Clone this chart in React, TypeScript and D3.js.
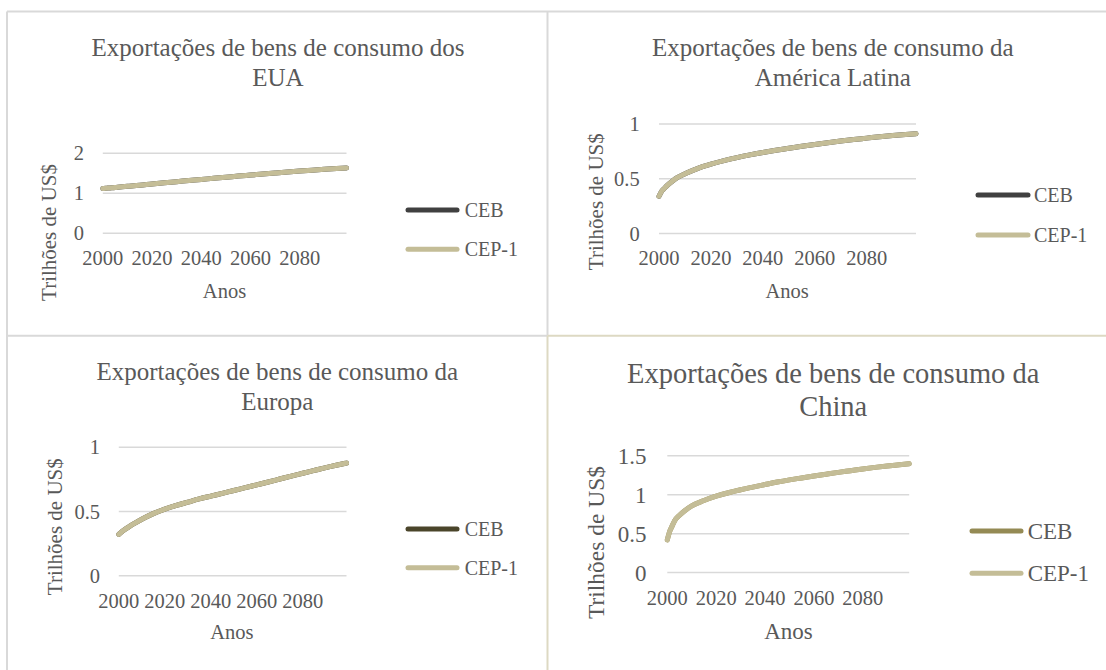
import { useEffect, useRef } from 'react';
import * as d3 from 'd3';

// Years sampled off the curves (2000..2099)
const years = [2000, 2001, 2002, 2003, 2005, 2007, 2010, 2015, 2020, 2025, 2030, 2035, 2040, 2045, 2050, 2055, 2060, 2065, 2070, 2075, 2080, 2085, 2090, 2095, 2099];

// Trilhões de US$ (CEB and CEP-1 coincide)
const euaValues = [1.12, 1.125, 1.13, 1.135, 1.145, 1.16, 1.175, 1.2, 1.235, 1.265, 1.29, 1.32, 1.345, 1.375, 1.4, 1.43, 1.455, 1.48, 1.505, 1.53, 1.555, 1.578, 1.6, 1.62, 1.635];
const latamValues = [0.34, 0.385, 0.41, 0.435, 0.475, 0.51, 0.545, 0.595, 0.633, 0.665, 0.693, 0.718, 0.74, 0.76, 0.778, 0.796, 0.813, 0.829, 0.844, 0.858, 0.871, 0.884, 0.895, 0.905, 0.912];
const europaValues = [0.322, 0.338, 0.352, 0.365, 0.389, 0.41, 0.44, 0.484, 0.519, 0.548, 0.573, 0.598, 0.62, 0.642, 0.664, 0.686, 0.708, 0.73, 0.753, 0.776, 0.798, 0.82, 0.842, 0.862, 0.877];
const chinaValues = [0.42, 0.53, 0.6, 0.665, 0.735, 0.79, 0.855, 0.925, 0.98, 1.025, 1.063, 1.097, 1.13, 1.162, 1.19, 1.215, 1.24, 1.263, 1.286, 1.308, 1.33, 1.35, 1.368, 1.384, 1.397];

const seriesNames = ['CEB', 'CEP-1'];
const xTickYears = [2000, 2020, 2040, 2060, 2080];
const yTicksEua = [0, 1, 2];
const yTicksLatam = [0, 0.5, 1];
const yTicksEuropa = [0, 0.5, 1];
const yTicksChina = [0, 0.5, 1, 1.5];

const TEXT = '#595959';
const GRID = '#d9d9d9';
const CEP1 = '#c4bd97';
const FONT = '"Liberation Serif", "Times New Roman", serif';

const panels = [
  {
    title: ['Exportações de bens de consumo dos', 'EUA'], titleX: 278, titleY: [55.7, 85.5], titleSize: 25,
    values: euaValues, yTicks: yTicksEua, ceb: '#404040',
    x0: 102.8, x1: 346.5, yTop: 153.3, yBottom: 233.3,
    yTickSize: 20.5, xTickSize: 20.5, yTickX: 84, xTickY: 265,
    yTitleX: 49, yTitleY: 232.5, yTitleSize: 21, anosX: 224.5, anosY: 297.7, anosSize: 20.5,
    legX0: 408, legX1: 457, legTextX: 464.7, legY: [210, 249.3], legSize: 20,
  },
  {
    title: ['Exportações de bens de consumo da', 'América Latina'], titleX: 832.8, titleY: [55.7, 85.5], titleSize: 25,
    values: latamValues, yTicks: yTicksLatam, ceb: '#404040',
    x0: 659, x1: 916, yTop: 124, yBottom: 233.5,
    yTickSize: 20.5, xTickSize: 20.5, yTickX: 639.7, xTickY: 265,
    yTitleX: 596, yTitleY: 201.7, yTitleSize: 21, anosX: 787.2, anosY: 297.7, anosSize: 20.5,
    legX0: 978, legX1: 1028, legTextX: 1034, legY: [195, 235], legSize: 20,
  },
  {
    title: ['Exportações de bens de consumo da', 'Europa'], titleX: 277.3, titleY: [380, 410], titleSize: 25,
    values: europaValues, yTicks: yTicksEuropa, ceb: '#4a452a',
    x0: 118.8, x1: 346.5, yTop: 447.3, yBottom: 575.8,
    yTickSize: 20.5, xTickSize: 20.5, yTickX: 100, xTickY: 608.3,
    yTitleX: 54.4, yTitleY: 526.7, yTitleSize: 21, anosX: 231.8, anosY: 639.3, anosSize: 20.5,
    legX0: 408, legX1: 457, legTextX: 464.7, legY: [529, 567.7], legSize: 20,
  },
  {
    title: ['Exportações de bens de consumo da', 'China'], titleX: 833.2, titleY: [382.7, 415.7], titleSize: 28.5,
    values: chinaValues, yTicks: yTicksChina, ceb: '#948a54',
    x0: 667.3, x1: 909.2, yTop: 455.7, yBottom: 572.6,
    yTickSize: 23, xTickSize: 20.5, yTickX: 646.5, xTickY: 605,
    yTitleX: 596, yTitleY: 542.5, yTitleSize: 23.5, anosX: 788.5, anosY: 639.3, anosSize: 23,
    legX0: 972, legX1: 1021, legTextX: 1027.7, legY: [531, 573.3], legSize: 23,
  },
];

export default function App() {
  const svgRef = useRef<SVGSVGElement>(null);

  useEffect(() => {
    if (!svgRef.current) return;
    const svg = d3.select(svgRef.current);
    svg.selectAll('*').remove();

    // table borders
    const borders = [
      { x1: 7, y1: 11.5, x2: 1106, y2: 11.5, c: GRID },
      { x1: 7, y1: 11.5, x2: 7, y2: 670, c: GRID },
      { x1: 547.5, y1: 11.5, x2: 547.5, y2: 335.7, c: GRID },
      { x1: 7, y1: 335.7, x2: 547.5, y2: 335.7, c: GRID },
      { x1: 547.5, y1: 335.7, x2: 1106, y2: 335.7, c: '#ddd9c3' },
      { x1: 547.5, y1: 335.7, x2: 547.5, y2: 670, c: '#ddd9c3' },
    ];
    svg.append('g')
      .selectAll('line')
      .data(borders)
      .enter()
      .append('line')
      .attr('x1', d => d.x1).attr('y1', d => d.y1)
      .attr('x2', d => d.x2).attr('y2', d => d.y2)
      .attr('stroke', d => d.c)
      .attr('stroke-width', 2);

    panels.forEach(p => {
      const g = svg.append('g').attr('fill', TEXT).style('font-family', FONT);
      const yMax = p.yTicks[p.yTicks.length - 1];

      const x = d3.scaleLinear().domain([2000, 2099]).range([p.x0, p.x1]);
      const y = d3.scaleLinear().domain([0, yMax]).range([p.yBottom, p.yTop]);

      // title
      g.append('text')
        .attr('text-anchor', 'middle')
        .attr('font-size', p.titleSize)
        .selectAll('tspan')
        .data(p.title)
        .enter()
        .append('tspan')
        .attr('x', p.titleX)
        .attr('y', (d, i) => p.titleY[i])
        .text(d => d);

      // gridlines
      g.append('g')
        .selectAll('line')
        .data(p.yTicks)
        .enter()
        .append('line')
        .attr('x1', p.x0)
        .attr('x2', p.x1)
        .attr('y1', d => y(d))
        .attr('y2', d => y(d))
        .attr('stroke', GRID)
        .attr('stroke-width', 1.5);

      // y tick labels
      g.append('g')
        .selectAll('text')
        .data(p.yTicks)
        .enter()
        .append('text')
        .attr('x', p.yTickX)
        .attr('y', d => y(d))
        .attr('dy', '0.35em')
        .attr('text-anchor', 'end')
        .attr('font-size', p.yTickSize)
        .text(d => String(d));

      // x tick labels
      g.append('g')
        .selectAll('text')
        .data(xTickYears)
        .enter()
        .append('text')
        .attr('x', d => x(d))
        .attr('y', p.xTickY)
        .attr('text-anchor', 'middle')
        .attr('font-size', p.xTickSize)
        .text(d => String(d));

      // axis titles
      g.append('text')
        .attr('transform', `translate(${p.yTitleX},${p.yTitleY}) rotate(-90)`)
        .attr('dy', '0.35em')
        .attr('text-anchor', 'middle')
        .attr('font-size', p.yTitleSize)
        .text('Trilhões de US$');

      g.append('text')
        .attr('x', p.anosX)
        .attr('y', p.anosY)
        .attr('text-anchor', 'middle')
        .attr('font-size', p.anosSize)
        .text('Anos');

      // lines: CEB underneath, CEP-1 on top
      const line = d3.line<number>()
        .x((d, i) => x(years[i]))
        .y(d => y(d))
        .curve(d3.curveMonotoneX);

      const colors = [p.ceb, CEP1];
      seriesNames.forEach((name, si) => {
        g.append('path')
          .datum(p.values)
          .attr('d', line)
          .attr('fill', 'none')
          .attr('stroke', colors[si])
          .attr('stroke-width', 5)
          .attr('stroke-linecap', 'round')
          .attr('stroke-linejoin', 'round');
      });

      // legend
      const legend = g.append('g');
      seriesNames.forEach((name, si) => {
        legend.append('line')
          .attr('x1', p.legX0)
          .attr('x2', p.legX1)
          .attr('y1', p.legY[si])
          .attr('y2', p.legY[si])
          .attr('stroke', colors[si])
          .attr('stroke-width', 5)
          .attr('stroke-linecap', 'round');
        legend.append('text')
          .attr('x', p.legTextX)
          .attr('y', p.legY[si])
          .attr('dy', '0.35em')
          .attr('font-size', p.legSize)
          .text(name);
      });
    });
  }, []);

  return (
    <svg
      ref={svgRef}
      width={1106}
      height={670}
      style={{ position: 'absolute', left: 0, top: 0, background: '#fff' }}
    />
  );
}
